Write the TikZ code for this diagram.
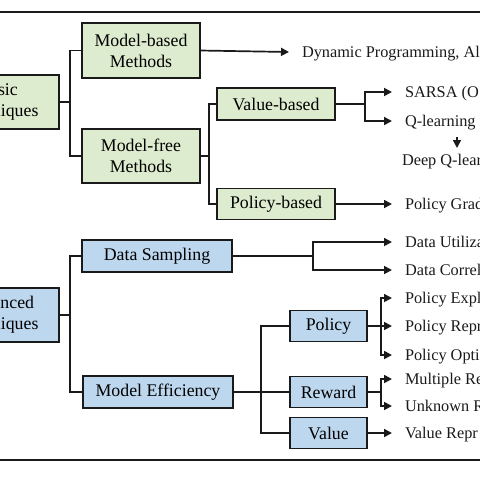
\documentclass[tikz,border=0pt]{standalone}
\usepackage{fontspec}
\setmainfont{Liberation Serif}
\usetikzlibrary{arrows.meta}
\definecolor{gfill}{HTML}{DDEBCF}
\definecolor{bfill}{HTML}{BDD7EE}
\definecolor{ink}{HTML}{1A1A1A}
\begin{document}
\begin{tikzpicture}[x=1pt,y=-1pt,
  box/.style={draw=ink,line width=1.5pt,inner sep=0pt,outer sep=0pt,align=center,
    font=\fontsize{17.8}{21}\selectfont},
  gbox/.style={box,fill=gfill},
  bbox/.style={box,fill=bfill},
  leaf/.style={anchor=west,inner xsep=13pt,inner ysep=0pt,outer sep=0pt,
    text height=12pt,text depth=1.5pt,font=\fontsize{16.3}{19}\selectfont,text=ink},
  con/.style={draw=ink,line width=1.7pt},
  arr/.style={con,-{Triangle[length=8pt,width=8pt]}}]
\useasboundingbox (0,0) rectangle (480,480);
% frame lines
\draw[line width=1.6pt,ink] (0,12) -- (480,12);
\draw[line width=1.6pt,ink] (0,460) -- (480,460);
% boxes
\node[gbox,minimum width=122pt,minimum height=54pt] (basic) at (-2,102) {Basic\\Techniques};
\node[gbox,minimum width=118pt,minimum height=55pt] (mb) at (141,50.5) {Model-based\\Methods};
\node[gbox,minimum width=118pt,minimum height=54pt] (mf) at (141,156) {Model-free\\Methods};
\node[gbox,minimum width=118pt,minimum height=32pt] (vb) at (276,104) {Value-based};
\node[gbox,minimum width=118pt,minimum height=31pt] (pb) at (276,204) {Policy-based};
\node[bbox,minimum width=122pt,minimum height=54pt] (adv) at (-2,315) {Advanced\\Techniques};
\node[bbox,minimum width=150pt,minimum height=32pt] (ds) at (157,256) {Data Sampling};
\node[bbox,minimum width=150pt,minimum height=32pt] (me) at (158,392) {Model Efficiency};
\node[bbox,minimum width=77pt,minimum height=31pt] (pol) at (328.5,326) {Policy};
\node[bbox,minimum width=77pt,minimum height=31pt] (rew) at (328.5,392) {Reward};
\node[bbox,minimum width=77pt,minimum height=31pt] (val) at (328.5,433) {Value};
% leaves
\node[leaf] (dyn) at (289,52) {Dynamic Programming, Al};
\node[leaf] (sarsa) at (392,92) {SARSA (O};
\node[leaf] (ql) at (392,121) {Q-learning};
\node[leaf,inner xsep=10pt] (dql) at (392,160) {Deep Q-lear};
\node[leaf] (pg) at (392,204) {Policy Grad};
\node[leaf] (du) at (392,242) {Data Utiliza};
\node[leaf] (dc) at (392,270) {Data Correl};
\node[leaf] (pe) at (392,298) {Policy Expl};
\node[leaf] (pr) at (392,326) {Policy Repr};
\node[leaf] (po) at (392,355) {Policy Opti};
\node[leaf] (mr) at (392,379) {Multiple Re};
\node[leaf] (ur) at (392,406) {Unknown R};
\node[leaf] (vr) at (392,433) {Value Repr};
% junctions
\coordinate (j1) at (70,102);
\coordinate (j2) at (209,156);
\coordinate (j3) at (365,104);
\coordinate (j4) at (70,315);
\coordinate (j5) at (313,256);
\coordinate (j6) at (261,392);
\coordinate (j7) at (381,326);
\coordinate (j8) at (381,392);
\coordinate (qa) at (457,137);
\coordinate (qb) at (457,148);
% connectors
\draw[con] (basic.east) -- (j1);
\draw[con] (j1) |- (mb.west);
\draw[con] (j1) |- (mf.west);
\draw[arr] (mb.east) -- (dyn.west);
\draw[con] (mf.east) -- (j2);
\draw[con] (j2) |- (vb.west);
\draw[con] (j2) |- (pb.west);
\draw[con] (vb.east) -- (j3);
\draw[arr] (j3) |- (sarsa.west);
\draw[arr] (j3) |- (ql.west);
\draw[arr] (qa) -- (qb);
\draw[arr] (pb.east) -- (pg.west);
\draw[con] (adv.east) -- (j4);
\draw[con] (j4) |- (ds.west);
\draw[con] (j4) |- (me.west);
\draw[con] (ds.east) -- (j5);
\draw[arr] (j5) |- (du.west);
\draw[arr] (j5) |- (dc.west);
\draw[con] (me.east) -- (rew.west);
\draw[con] (j6) |- (pol.west);
\draw[con] (j6) |- (val.west);
\draw[arr] (pol.east) -- (pr.west);
\draw[arr] (j7) |- (pe.west);
\draw[arr] (j7) |- (po.west);
\draw[con] (rew.east) -- (j8);
\draw[arr] (j8) |- (mr.west);
\draw[arr] (j8) |- (ur.west);
\draw[arr] (val.east) -- (vr.west);
\end{tikzpicture}
\end{document}
